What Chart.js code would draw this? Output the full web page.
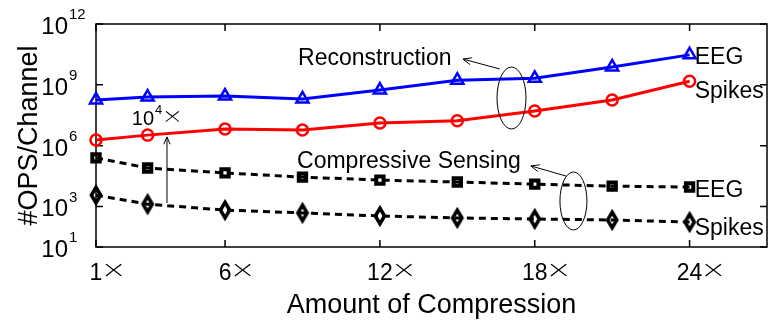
<!DOCTYPE html>
<html>
<head>
<meta charset="utf-8">
<script src="https://cdn.jsdelivr.net/npm/chart.js@4.4.1/dist/chart.umd.min.js"></script>
<style>
  html, body { margin: 0; padding: 0; background: #fff; overflow: hidden; }
</style>
</head>
<body>
<canvas id="opsChart" width="769" height="321"></canvas>
<script>
// ------------------------------------------------------------------
// Data: operations per channel vs. compression ratio
// ------------------------------------------------------------------
const compression = [1, 3, 6, 9, 12, 15, 18, 21, 24];

const reconEEG    = [1.8e8, 2.5e8, 2.8e8, 2.0e8, 5.5e8, 1.7e9, 2.1e9, 7.6e9, 3.0e10];
const reconSpikes = [1.9e6, 3.3e6, 6.6e6, 5.9e6, 1.3e7, 1.7e7, 5.1e7, 1.8e8, 1.5e9];
const csEEG       = [2.5e5, 7.9e4, 4.5e4, 2.8e4, 2.0e4, 1.6e4, 1.26e4, 1.0e4, 9.1e3];
const csSpikes    = [3.6e3, 1.3e3, 660, 480, 340, 270, 240, 215, 170];

const xTicks    = [1, 6, 12, 18, 24];
const yTickExps = [1, 3, 6, 9, 12];

const FONT = '"Liberation Sans", Arial, Helvetica, sans-serif';
const THIN_FONT = '"Lato Light", Lato, "Liberation Sans", sans-serif';

function points(ys) {
    return compression.map((c, i) => ({ x: c, y: ys[i] }));
}

// ------------------------------------------------------------------
// Drawing helpers
// ------------------------------------------------------------------
function font(size, weight) {
    return (weight ? weight + ' ' : '') + size + 'px ' + FONT;
}

// "10" with a raised exponent; anchor is the right edge of the base
function drawPow(ctx, base, exp, xRight, baseline, size, expSize) {
    ctx.font = font(size);
    ctx.textAlign = 'right';
    ctx.textBaseline = 'alphabetic';
    ctx.fillText(base, xRight, baseline);
    ctx.font = font(expSize);
    ctx.textAlign = 'left';
    ctx.fillText(exp, xRight + 1, baseline - size * 0.62);
}

// thin, wide multiplication sign
function drawTimes(ctx, x, baseline, size) {
    ctx.save();
    ctx.translate(x, baseline);
    ctx.scale(1.2, 0.92);
    ctx.font = '300 ' + size + 'px ' + THIN_FONT;
    ctx.textAlign = 'left';
    ctx.fillText('\u00d7', 0, 0);
    ctx.restore();
}

function drawArrow(ctx, x0, y0, x1, y1, head) {
    const ang = Math.atan2(y1 - y0, x1 - x0);
    ctx.beginPath();
    ctx.moveTo(x0, y0);
    ctx.lineTo(x1, y1);
    ctx.moveTo(x1 - head * Math.cos(ang - 0.4), y1 - head * Math.sin(ang - 0.4));
    ctx.lineTo(x1, y1);
    ctx.lineTo(x1 - head * Math.cos(ang + 0.4), y1 - head * Math.sin(ang + 0.4));
    ctx.stroke();
}

// tall open diamond marker
function diamondMarker() {
    const c = document.createElement('canvas');
    c.width = 18; c.height = 26;
    const g = c.getContext('2d');
    g.strokeStyle = '#000';
    g.lineWidth = 3.6;
    g.beginPath();
    g.moveTo(9, 5.2); g.lineTo(13.6, 13); g.lineTo(9, 20.8); g.lineTo(4.4, 13);
    g.closePath();
    g.stroke();
    return c;
}

// ------------------------------------------------------------------
// Plugin: boxed axes with inward ticks, labels and annotations
// ------------------------------------------------------------------
const axesBox = {
    id: 'axesBox',
    beforeDatasetsDraw(chart) {
        const { ctx, chartArea: a, scales: { x, y } } = chart;
        ctx.save();
        ctx.strokeStyle = '#000';
        ctx.lineWidth = 1.5;
        ctx.strokeRect(a.left, a.top, a.right - a.left, a.bottom - a.top);

        ctx.beginPath();
        xTicks.forEach(v => {
            const p = x.getPixelForValue(v);
            ctx.moveTo(p, a.bottom); ctx.lineTo(p, a.bottom - 7);
            ctx.moveTo(p, a.top);    ctx.lineTo(p, a.top + 7);
        });
        yTickExps.forEach(e => {
            const p = y.getPixelForValue(Math.pow(10, e));
            ctx.moveTo(a.left, p);  ctx.lineTo(a.left + 7, p);
            ctx.moveTo(a.right, p); ctx.lineTo(a.right - 7, p);
        });
        ctx.stroke();

        ctx.fillStyle = '#000';

        // y tick labels: 10^n
        yTickExps.forEach(e => {
            const p = y.getPixelForValue(Math.pow(10, e));
            drawPow(ctx, '10', String(e), a.left - 28, p + 10, 24, 15);
        });

        // x tick labels: number centred on the tick, then the times sign
        xTicks.forEach(v => {
            const p = x.getPixelForValue(v);
            ctx.font = font(23);
            ctx.textAlign = 'left';
            ctx.textBaseline = 'alphabetic';
            const num = String(v);
            const w = ctx.measureText(num).width;
            ctx.fillText(num, p - w / 2, a.bottom + 33);
            drawTimes(ctx, p + w / 2, a.bottom + 33, 32);
        });

        // axis titles
        ctx.font = font(27);
        ctx.textAlign = 'center';
        ctx.fillText('Amount of Compression', (a.left + a.right) / 2, a.bottom + 66);

        ctx.save();
        ctx.translate(37, (a.top + a.bottom) / 2);
        ctx.rotate(-Math.PI / 2);
        ctx.fillText('#OPS/Channel', 0, 0);
        ctx.restore();

        ctx.restore();
    },
    afterDatasetsDraw(chart) {
        const { ctx, scales: { x, y } } = chart;
        const px = v => x.getPixelForValue(v);
        const py = e => y.getPixelForValue(Math.pow(10, e));

        ctx.save();
        ctx.fillStyle = '#000';
        ctx.strokeStyle = '#000';
        ctx.lineWidth = 1;
        ctx.textAlign = 'left';
        ctx.textBaseline = 'alphabetic';

        // group callouts
        ctx.font = font(23);
        ctx.fillText('Reconstruction', px(8.83), py(9.98));
        ctx.fillText('Compressive Sensing', px(8.79), py(4.90));

        drawArrow(ctx, px(16.65), py(9.78), px(15.22), py(10.27), 9);
        drawArrow(ctx, px(19.21), py(4.50), px(17.85), py(5.00), 9);

        ctx.beginPath();
        ctx.ellipse(px(17.10), py(8.35), 14.5, 31, 0, 0, Math.PI * 2);
        ctx.stroke();
        ctx.beginPath();
        ctx.ellipse(px(19.50), py(3.27), 13.5, 29, 0, 0, Math.PI * 2);
        ctx.stroke();

        // series end labels
        ctx.font = font(23);
        ctx.fillText('EEG',    px(24.2), py(10.03));
        ctx.fillText('Spikes', px(24.2), py(8.35));
        ctx.fillText('EEG',    px(24.2), py(3.47));
        ctx.fillText('Spikes', px(24.2), py(1.59));

        // gap between the two approaches
        ctx.font = font(20);
        const tx = px(2.39), ty = py(7.02);
        ctx.fillText('10', tx, ty);
        const w10 = ctx.measureText('10').width;
        ctx.font = font(13);
        ctx.fillText('4', tx + w10 + 1, ty - 11);
        drawTimes(ctx, tx + w10 + 9, ty, 27);
        drawArrow(ctx, px(3.75), py(3.17), px(3.75), py(6.43), 8);

        ctx.restore();
    }
};

// ------------------------------------------------------------------
// Chart
// ------------------------------------------------------------------
const series = (color, style, r, bw) => ({
    borderColor: color,
    borderWidth: 3,
    pointStyle: style,
    pointRadius: r,
    pointHoverRadius: r,
    pointBorderWidth: bw,
    pointBorderColor: color,
    pointBackgroundColor: 'rgba(0,0,0,0)',
    tension: 0,
    clip: false
});

new Chart(document.getElementById('opsChart'), {
    type: 'line',
    data: {
        datasets: [
            { label: 'Reconstruction EEG',    data: points(reconEEG),    ...series('#0000ff', 'triangle', 7, 2.5) },
            { label: 'Reconstruction Spikes', data: points(reconSpikes), ...series('#ff0000', 'circle', 5.5, 2.5) },
            { label: 'CS EEG',    data: points(csEEG),    ...series('#000000', 'rect', 5.2, 4), borderDash: [7, 5] },
            { label: 'CS Spikes', data: points(csSpikes), ...series('#000000', diamondMarker(), 8, 3), borderDash: [7, 5] }
        ]
    },
    options: {
        responsive: false,
        animation: false,
        devicePixelRatio: 1,
        layout: { autoPadding: false, padding: { left: 96, top: 24, right: 2, bottom: 74 } },
        scales: {
            x: { type: 'linear', min: 1, max: 27, display: false },
            y: { type: 'logarithmic', min: 10, max: 1e12, display: false }
        },
        plugins: {
            legend: { display: false },
            tooltip: { enabled: false }
        }
    },
    plugins: [axesBox]
});
</script>
</body>
</html>
